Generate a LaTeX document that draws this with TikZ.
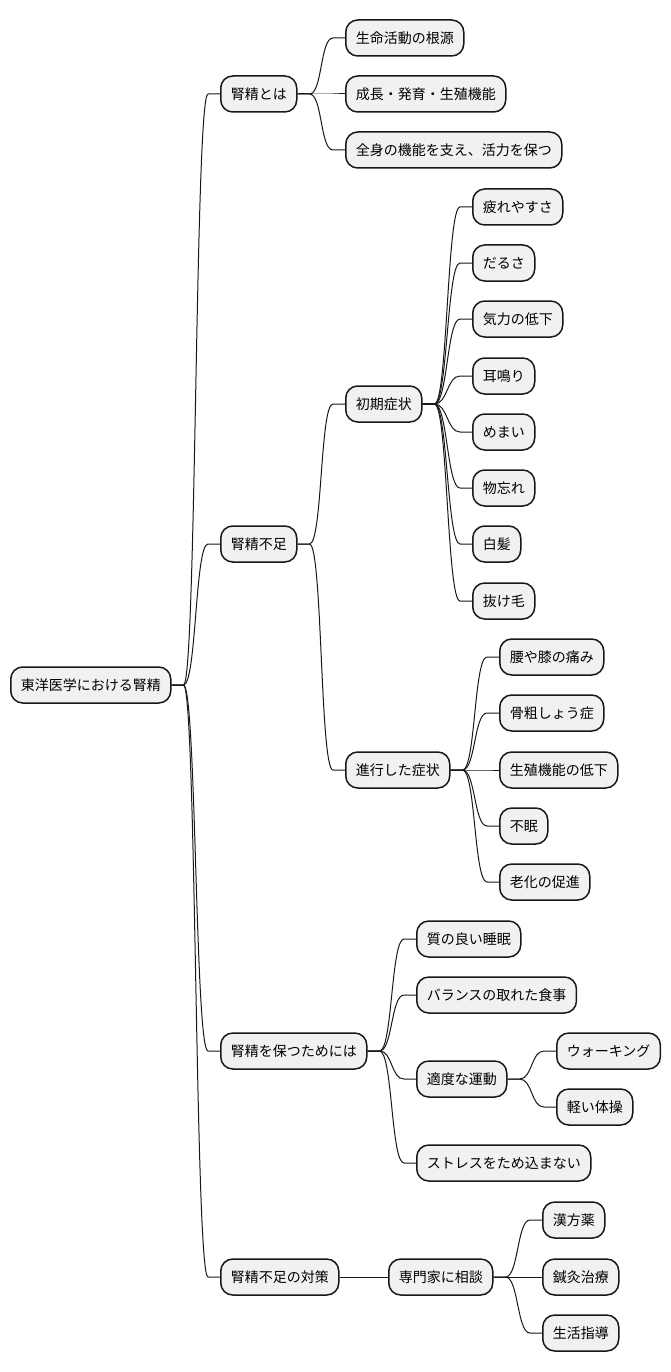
\documentclass[tikz,border=0pt]{standalone}
\usepackage{fontspec}
\setmainfont{Noto Sans CJK JP}
\usetikzlibrary{calc}
\definecolor{boxfill}{HTML}{F1F1F1}
\definecolor{boxline}{HTML}{181818}
\tikzset{
  mmbox/.style={draw=boxline, fill=boxfill, line width=1.5pt, rounded corners=12pt,
    anchor=west, minimum height=36pt, inner xsep=10pt, inner ysep=0pt,
    font=\fontsize{14pt}{16pt}\selectfont, text=black},
  mmedge/.style={draw=boxline, line width=1pt}
}
\newcommand{\mmlink}[2]{\draw[mmedge] (#1.east) -- ($(#1.east)+(12,0)$) .. controls ($(#1.east)+(25,0)$) and ($(#2.west)+(-25,0)$) .. ($(#2.west)+(-12,0)$) -- (#2.west);}
\begin{document}
\begin{tikzpicture}[x=1pt,y=-1pt]
\useasboundingbox (0,0) rectangle (670,1372);
\node[mmbox] (r) at (10,685) {東洋医学における腎精};
% level 1
\node[mmbox] (a) at (220,94) {腎精とは};
\node[mmbox] (b) at (220,544) {腎精不足};
\node[mmbox] (c) at (220,1051) {腎精を保つためには};
\node[mmbox] (d) at (220,1277) {腎精不足の対策};
% a children
\node[mmbox] (a1) at (345,38) {生命活動の根源};
\node[mmbox] (a2) at (345,94) {成長・発育・生殖機能};
\node[mmbox] (a3) at (345,150) {全身の機能を支え、活力を保つ};
% b children
\node[mmbox] (b1) at (345,404) {初期症状};
\node[mmbox] (b2) at (345,770) {進行した症状};
\node[mmbox] (b11) at (472,207) {疲れやすさ};
\node[mmbox] (b12) at (472,263) {だるさ};
\node[mmbox] (b13) at (472,319) {気力の低下};
\node[mmbox] (b14) at (472,376) {耳鳴り};
\node[mmbox] (b15) at (472,432) {めまい};
\node[mmbox] (b16) at (472,488) {物忘れ};
\node[mmbox] (b17) at (472,544) {白髪};
\node[mmbox] (b18) at (472,601) {抜け毛};
\node[mmbox] (b21) at (499,657) {腰や膝の痛み};
\node[mmbox] (b22) at (499,713) {骨粗しょう症};
\node[mmbox] (b23) at (499,770) {生殖機能の低下};
\node[mmbox] (b24) at (499,826) {不眠};
\node[mmbox] (b25) at (499,882) {老化の促進};
% c children
\node[mmbox] (c1) at (416,939) {質の良い睡眠};
\node[mmbox] (c2) at (416,995) {バランスの取れた食事};
\node[mmbox] (c3) at (416,1079) {適度な運動};
\node[mmbox] (c4) at (416,1163) {ストレスをため込まない};
\node[mmbox] (c31) at (556,1051) {ウォーキング};
\node[mmbox] (c32) at (556,1107) {軽い体操};
% d children
\node[mmbox] (d1) at (388,1277) {専門家に相談};
\node[mmbox] (d11) at (542,1220) {漢方薬};
\node[mmbox] (d12) at (542,1277) {鍼灸治療};
\node[mmbox] (d13) at (542,1333) {生活指導};
% links
\foreach \p/\c in {r/a, r/b, r/c, r/d,
  a/a1, a/a2, a/a3,
  b/b1, b/b2,
  b1/b11, b1/b12, b1/b13, b1/b14, b1/b15, b1/b16, b1/b17, b1/b18,
  b2/b21, b2/b22, b2/b23, b2/b24, b2/b25,
  c/c1, c/c2, c/c3, c/c4, c3/c31, c3/c32,
  d/d1, d1/d11, d1/d12, d1/d13}
  {\mmlink{\p}{\c}}
\end{tikzpicture}
\end{document}
